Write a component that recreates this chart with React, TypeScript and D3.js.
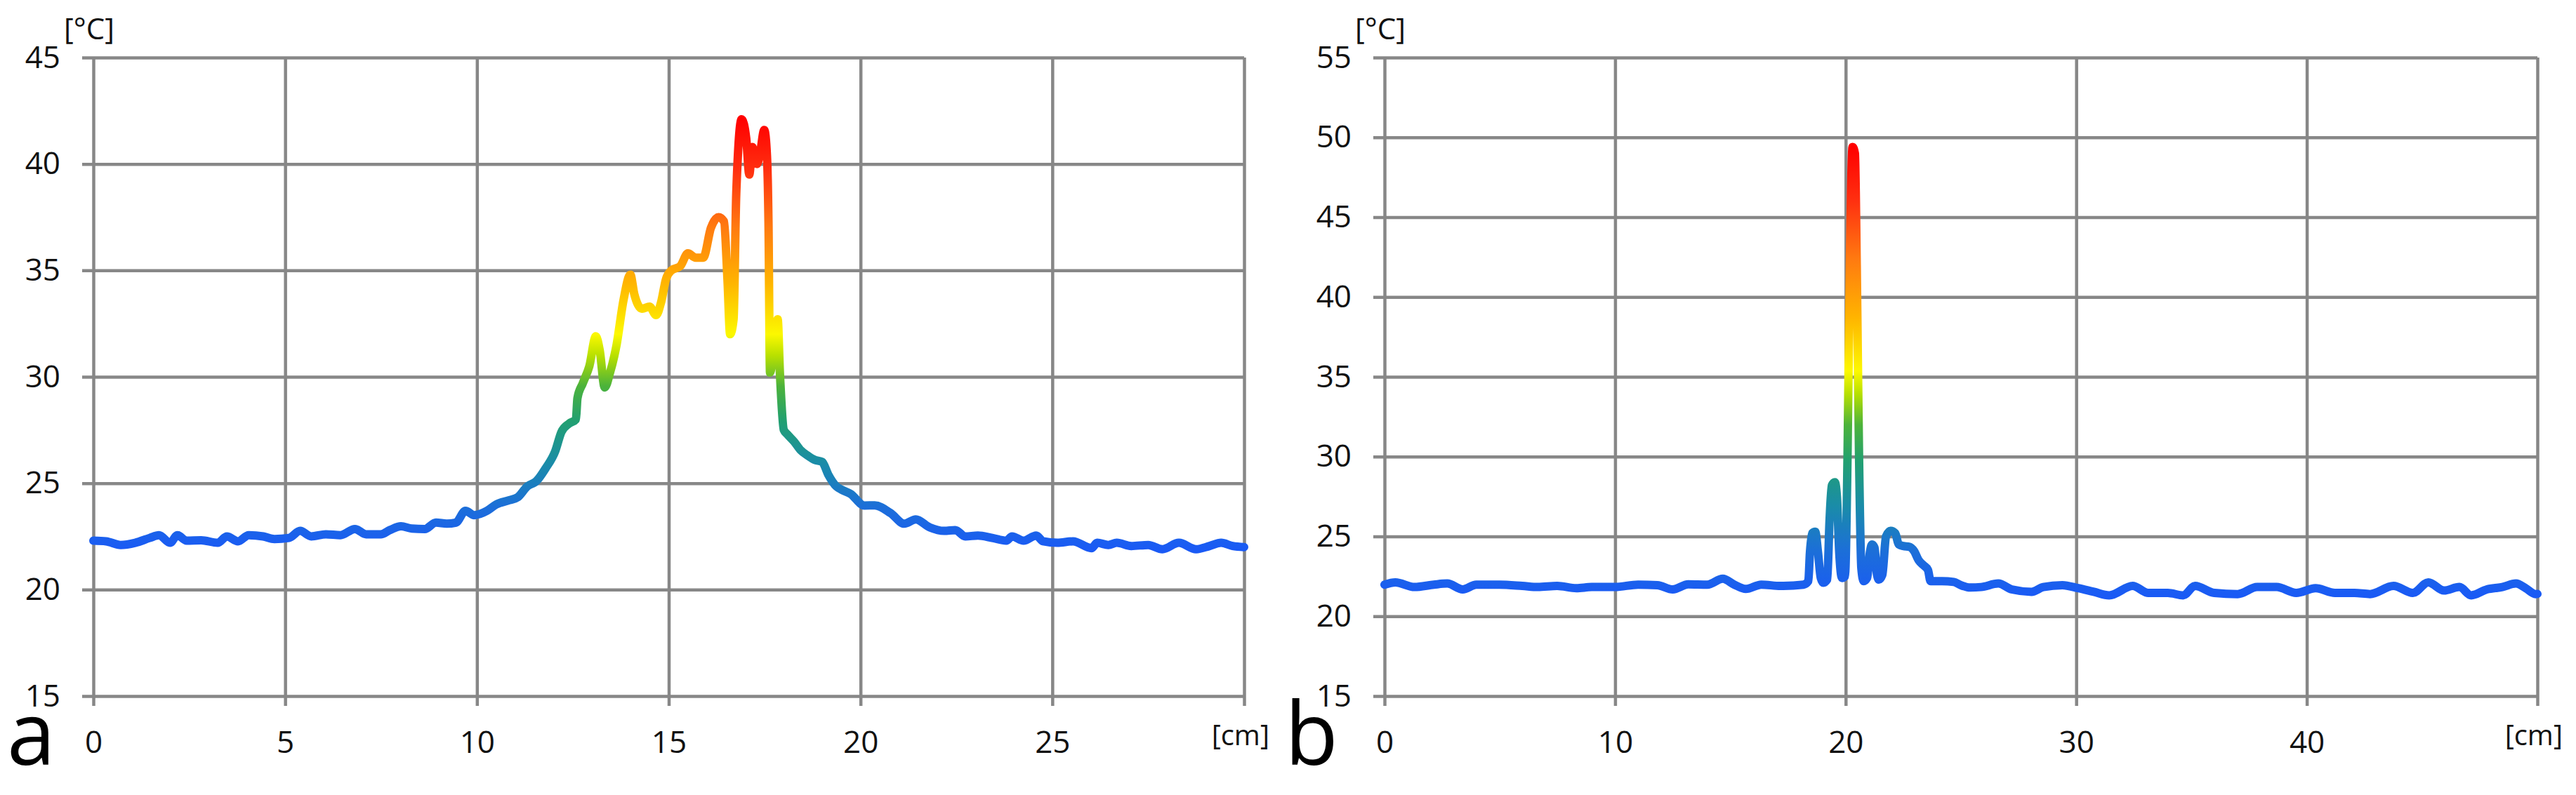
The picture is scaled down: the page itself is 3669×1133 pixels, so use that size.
import React, { useEffect, useRef } from "react";
import * as d3 from "d3";

// panel a: temperature profile, 0-30 cm
const aPos = [0, 0.33, 0.71, 1.09, 1.47, 1.71, 2.0, 2.19, 2.43, 2.81, 3.24, 3.48, 3.77, 4.05, 4.43, 4.72, 5.1, 5.39, 5.68, 6.06, 6.44, 6.82, 7.11, 7.49, 7.73, 8.02, 8.3, 8.64, 8.93, 9.21, 9.45, 9.7, 9.93, 10.26, 10.5, 10.84, 11.07, 11.31, 11.55, 11.79, 12.04, 12.2, 12.4, 12.58, 12.62, 12.76, 12.93, 13.1, 13.2, 13.33, 13.47, 13.64, 13.82, 14.0, 14.1, 14.3, 14.5, 14.67, 14.8, 14.93, 15.07, 15.3, 15.5, 15.7, 15.9, 16.1, 16.3, 16.44, 16.53, 16.6, 16.69, 16.76, 16.9, 17.02, 17.1, 17.18, 17.3, 17.38, 17.49, 17.56, 17.6, 17.64, 17.75, 17.84, 17.9, 18.0, 18.09, 18.27, 18.44, 18.62, 18.8, 19.0, 19.16, 19.37, 19.5, 19.74, 20.1, 20.37, 20.78, 21.14, 21.44, 21.8, 22.18, 22.47, 22.73, 23.06, 23.43, 23.8, 23.95, 24.25, 24.58, 24.76, 25.13, 25.54, 26.02, 26.17, 26.46, 26.68, 27.06, 27.5, 27.87, 28.3, 28.75, 29.1, 29.4, 29.7, 30.0];
const aTemp = [22.3, 22.27, 22.1, 22.2, 22.43, 22.56, 22.2, 22.56, 22.3, 22.32, 22.2, 22.5, 22.27, 22.56, 22.5, 22.38, 22.43, 22.76, 22.5, 22.6, 22.56, 22.85, 22.6, 22.6, 22.8, 22.98, 22.87, 22.85, 23.15, 23.1, 23.15, 23.7, 23.5, 23.7, 24.0, 24.2, 24.35, 24.85, 25.1, 25.7, 26.5, 27.4, 27.8, 28.0, 29.0, 29.7, 30.5, 31.9, 31.25, 29.5, 30.2, 31.5, 33.6, 34.8, 33.9, 33.2, 33.3, 32.9, 33.5, 34.6, 35.0, 35.2, 35.8, 35.6, 35.6, 37.0, 37.5, 37.3, 34.6, 32.0, 32.7, 38.6, 42.1, 41.2, 39.5, 40.8, 40.0, 40.5, 41.6, 40.4, 37.3, 30.2, 31.5, 32.7, 30.1, 27.5, 27.3, 26.95, 26.55, 26.3, 26.1, 26.0, 25.4, 24.85, 24.7, 24.5, 23.95, 23.96, 23.6, 23.1, 23.3, 22.93, 22.76, 22.8, 22.5, 22.54, 22.43, 22.3, 22.5, 22.3, 22.54, 22.27, 22.2, 22.27, 21.95, 22.2, 22.1, 22.2, 22.05, 22.1, 21.9, 22.2, 21.9, 22.05, 22.2, 22.05, 22.0];

// panel b: temperature profile, 0-50 cm
const bPos = [0, 0.47, 1.3, 2.14, 2.72, 3.39, 3.98, 4.98, 5.98, 6.65, 7.49, 8.32, 8.99, 9.99, 11.0, 11.83, 12.5, 13.17, 14.0, 14.67, 15.17, 15.67, 16.34, 17.17, 18.17, 18.38, 18.45, 18.55, 18.68, 18.8, 18.92, 19.03, 19.2, 19.3, 19.4, 19.53, 19.62, 19.72, 19.84, 19.97, 20.08, 20.18, 20.3, 20.4, 20.48, 20.58, 20.68, 20.78, 20.93, 21.05, 21.14, 21.25, 21.36, 21.44, 21.59, 21.75, 21.95, 22.15, 22.3, 22.5, 22.76, 22.96, 23.17, 23.37, 23.57, 23.68, 24.18, 24.69, 24.99, 25.4, 25.87, 26.62, 27.2, 28.06, 28.57, 29.4, 30.08, 30.76, 31.43, 32.45, 33.12, 33.97, 34.64, 35.15, 35.99, 37.0, 37.85, 38.69, 39.54, 40.38, 41.22, 42.07, 42.74, 43.76, 44.6, 45.27, 45.95, 46.62, 47.13, 47.81, 48.48, 49.07, 49.49, 49.92, 50.0];
const bTemp = [21.98, 22.12, 21.83, 21.98, 22.05, 21.68, 21.98, 21.98, 21.9, 21.83, 21.9, 21.76, 21.83, 21.83, 21.98, 21.95, 21.68, 22.0, 21.98, 22.35, 21.98, 21.71, 21.98, 21.9, 21.98, 22.2, 24.0, 25.2, 25.3, 24.0, 22.4, 22.1, 22.3, 26.0, 28.2, 28.4, 27.5, 24.0, 22.4, 22.5, 30.0, 42.0, 49.4, 49.0, 42.0, 30.0, 23.0, 22.2, 22.4, 24.0, 24.5, 24.3, 22.6, 22.3, 22.6, 25.0, 25.35, 25.2, 24.5, 24.4, 24.35, 24.1, 23.5, 23.2, 22.9, 22.2, 22.2, 22.15, 21.95, 21.8, 21.83, 22.05, 21.68, 21.53, 21.83, 21.95, 21.76, 21.53, 21.31, 21.9, 21.46, 21.46, 21.31, 21.9, 21.46, 21.39, 21.83, 21.83, 21.46, 21.76, 21.46, 21.46, 21.39, 21.9, 21.46, 22.12, 21.61, 21.83, 21.31, 21.68, 21.83, 22.05, 21.76, 21.39, 21.4];

const aXTicks = [0, 5, 10, 15, 20, 25, 30];
const bXTicks = [0, 10, 20, 30, 40, 50];
const aYTicks = [15, 20, 25, 30, 35, 40, 45];
const bYTicks = [15, 20, 25, 30, 35, 40, 45, 50, 55];

// colour ramp along temperature (min -> max of each series)
const rampOffsets = [0, 0.1, 0.2, 0.3, 0.38, 0.45, 0.5, 0.62, 0.75, 0.88, 1];
const rampColors = ["#1a5af5", "#1c6fd8", "#1a8ca8", "#22a070", "#4cb33a", "#b8e000", "#fcf800", "#ffb400", "#ff7a10", "#ff3010", "#ff0000"];

const W = 3669, H = 1133;
const TOP = 82, BOTTOM = 992;
const FONT = "'Open Sans', sans-serif";

function Panel({ id, letter, pos, temp, xMax, xTicks, yMin, yMax, yTicks, left, right, letterX }) {
    const gRef = useRef();

    useEffect(() => {
        const g = d3.select(gRef.current);
        g.selectAll("*").remove();

        const x = d3.scaleLinear().domain([0, xMax]).range([left, right]);
        const y = d3.scaleLinear().domain([yMin, yMax]).range([BOTTOM, TOP]);
        const pw = right - left, ph = BOTTOM - TOP;

        // horizontal grid + y labels
        const ya = g.append("g")
            .attr("transform", `translate(${left},0)`)
            .call(d3.axisLeft(y).tickValues(yTicks).tickSize(-pw).tickPadding(47).tickFormat(d3.format("d")));
        ya.select(".domain").remove();
        ya.selectAll(".tick line").attr("x1", -16).attr("stroke", "#878787").attr("stroke-width", 4.5);
        ya.selectAll("text").attr("font-size", 44).attr("font-family", FONT).attr("fill", "#111");

        // vertical grid + x labels (last one replaced by unit)
        const xa = g.append("g")
            .attr("transform", `translate(0,${BOTTOM})`)
            .call(d3.axisBottom(x).tickValues(xTicks).tickSize(-ph).tickPadding(50)
                .tickFormat(d => (d === xMax ? "" : String(d))));
        xa.select(".domain").remove();
        xa.selectAll(".tick line").attr("y1", 14).attr("stroke", "#878787").attr("stroke-width", 4.5);
        xa.selectAll("text").attr("font-size", 44).attr("font-family", FONT).attr("fill", "#111");

        const [tMin, tMax] = d3.extent(temp);
        const grad = g.append("defs").append("linearGradient")
            .attr("id", id)
            .attr("gradientUnits", "userSpaceOnUse")
            .attr("x1", 0).attr("x2", 0)
            .attr("y1", y(tMin)).attr("y2", y(tMax));
        grad.selectAll("stop")
            .data(rampOffsets)
            .join("stop")
            .attr("offset", d => d)
            .attr("stop-color", (_, i) => rampColors[i]);

        const line = d3.line()
            .x((_, i) => x(pos[i]))
            .y(d => y(d))
            .curve(d3.curveMonotoneX);

        g.append("path")
            .datum(temp)
            .attr("d", line)
            .attr("fill", "none")
            .attr("stroke", `url(#${id})`)
            .attr("stroke-width", 12)
            .attr("stroke-linejoin", "round")
            .attr("stroke-linecap", "round");

        g.append("text")
            .attr("x", left - 42)
            .attr("y", 56)
            .attr("font-size", 42)
            .attr("font-family", FONT)
            .attr("fill", "#111")
            .text("[°C]");

        g.append("text")
            .attr("x", right + 36)
            .attr("y", 1062)
            .attr("text-anchor", "end")
            .attr("font-size", 40)
            .attr("font-family", FONT)
            .attr("fill", "#111")
            .text("[cm]");

        // panel letter
        g.append("text")
            .attr("x", letterX)
            .attr("y", 1090)
            .attr("font-size", 124)
            .attr("font-family", FONT)
            .attr("fill", "#000")
            .text(letter);
    }, []);

    return <g ref={gRef} />;
}

export default function App() {
    useEffect(() => {
        document.body.style.margin = "0";
    }, []);

    return (
        <svg width={W} height={H} style={{ display: "block", background: "#fff" }}>
            <rect width={W} height={H} fill="#fff" />
            <Panel id="gradA" letter="a" pos={aPos} temp={aTemp} xMax={30} xTicks={aXTicks}
                yMin={15} yMax={45} yTicks={aYTicks} left={133} right={1772} letterX={10} />
            <Panel id="gradB" letter="b" pos={bPos} temp={bTemp} xMax={50} xTicks={bXTicks}
                yMin={15} yMax={55} yTicks={bYTicks} left={1972} right={3614} letterX={1830} />
        </svg>
    );
}
